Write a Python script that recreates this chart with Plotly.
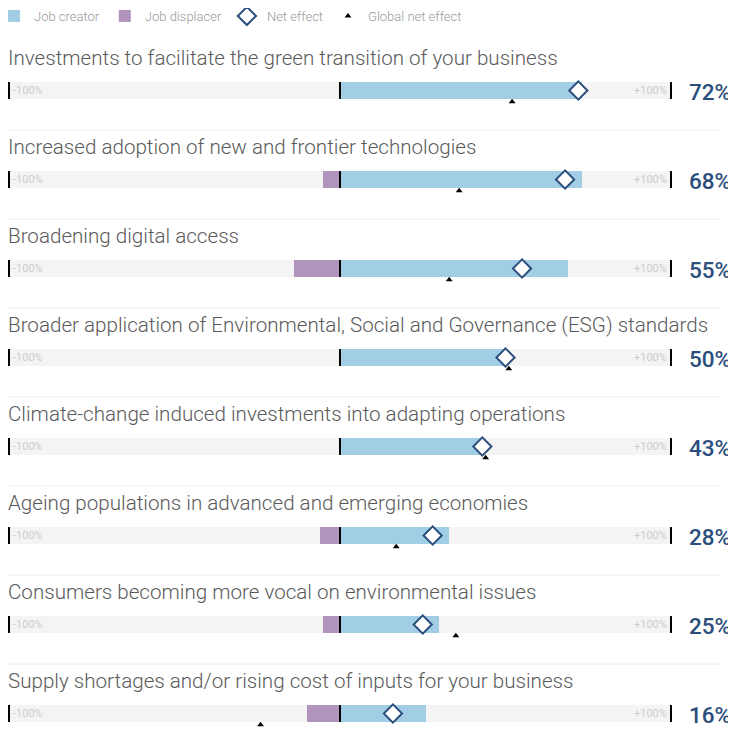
import plotly.graph_objects as go

drivers = [
    "Investments to facilitate the green transition of your business",
    "Increased adoption of new and frontier technologies",
    "Broadening digital access",
    "Broader application of Environmental, Social and Governance (ESG) standards",
    "Climate-change induced investments into adapting operations",
    "Ageing populations in advanced and emerging economies",
    "Consumers becoming more vocal on environmental issues",
    "Supply shortages and/or rising cost of inputs for your business",
]
job_creator = [73, 73, 69, 50, 43, 33, 30, 26]
job_displacer = [0, 5, 14, 0, 0, 6, 5, 10]
net_effect = [72, 68, 55, 50, 43, 28, 25, 16]
global_net = [52, 36, 33, 51, 44, 17, 35, -24]
net_labels = ["72%", "68%", "55%", "50%", "43%", "28%", "25%", "16%"]

BLUE = "#a1cde5"
PURPLE = "#b094bc"
NAVY = "#2b4e7d"
TRACK = "#f4f4f4"

# the page body adds an 8px margin, so the figure is 8px smaller each way
W, H = 728, 721

rows = list(range(len(drivers)))
bar_w = 0.19

fig = go.Figure()

# grey track from -100% to +100%
fig.add_trace(go.Bar(
    y=rows, x=[200] * len(rows), base=[-100] * len(rows), orientation="h",
    width=bar_w, marker=dict(color=TRACK, line=dict(width=0)),
    showlegend=False, hoverinfo="skip",
))
fig.add_trace(go.Bar(
    y=rows, x=job_creator, base=[0] * len(rows), orientation="h",
    width=bar_w, marker=dict(color=BLUE, line=dict(width=0)),
    name="Job creator",
))
fig.add_trace(go.Bar(
    y=rows, x=job_displacer, base=[-d for d in job_displacer], orientation="h",
    width=bar_w, marker=dict(color=PURPLE, line=dict(width=0)),
    name="Job displacer",
))
fig.add_trace(go.Scatter(
    y=rows, x=net_effect, mode="markers",
    marker=dict(symbol="diamond", size=14, color="white",
                line=dict(color=NAVY, width=2)),
    name="Net effect",
))
fig.add_trace(go.Scatter(
    y=[r + 0.125 for r in rows], x=global_net, mode="markers",
    marker=dict(symbol="triangle-up", size=6, color="black"),
    name="Global net effect",
))

for i, (label, pct) in enumerate(zip(drivers, net_labels)):
    fig.add_annotation(
        x=-0.003, xref="paper", y=i - 0.37, yref="y", text=label,
        showarrow=False, xanchor="left", yanchor="middle",
        font=dict(family="Roboto", size=20.6, color="#5a5a5a", weight=300),
    )
    fig.add_annotation(
        x=679 / W, xref="paper", y=i + 0.02, yref="y", text=pct,
        showarrow=False, xanchor="left", yanchor="middle",
        font=dict(family="Roboto", size=22.5, color=NAVY, weight=500),
    )
    fig.add_annotation(
        x=-99.5, y=i, text="-100%", showarrow=False, xanchor="left",
        yanchor="middle", font=dict(family="Roboto", size=11, color="#cccccc"),
    )
    fig.add_annotation(
        x=99.5, y=i, text="+100%", showarrow=False, xanchor="right",
        yanchor="middle", font=dict(family="Roboto", size=11, color="#cccccc"),
    )
    for xv in (-100, 0, 100):
        fig.add_shape(type="line", x0=xv, x1=xv, y0=i - bar_w / 2, y1=i + bar_w / 2,
                      xref="x", yref="y", line=dict(color="black", width=2))
    if i < len(drivers) - 1:
        fig.add_shape(type="line", x0=0, x1=0.98, xref="paper",
                      y0=i + 0.444, y1=i + 0.444, yref="y",
                      line=dict(color="#ececec", width=1))

fig.update_layout(
    width=W, height=H,
    margin=dict(l=0, r=0, t=0, b=0, autoexpand=False),
    plot_bgcolor="white", paper_bgcolor="white",
    barmode="overlay", bargap=0,
    xaxis=dict(range=[-100.3, 119.64], domain=[0, 1], visible=False, fixedrange=True),
    yaxis=dict(range=[7.174, -0.927], visible=False, fixedrange=True),
    legend=dict(orientation="h", x=-14 / W, y=1 + 7 / H, xanchor="left", yanchor="top",
                font=dict(family="Roboto", size=13, color="#999999", weight=300),
                bgcolor="rgba(0,0,0,0)", itemclick=False, traceorder="normal"),
    showlegend=True,
)

fig.write_html("out.html")
